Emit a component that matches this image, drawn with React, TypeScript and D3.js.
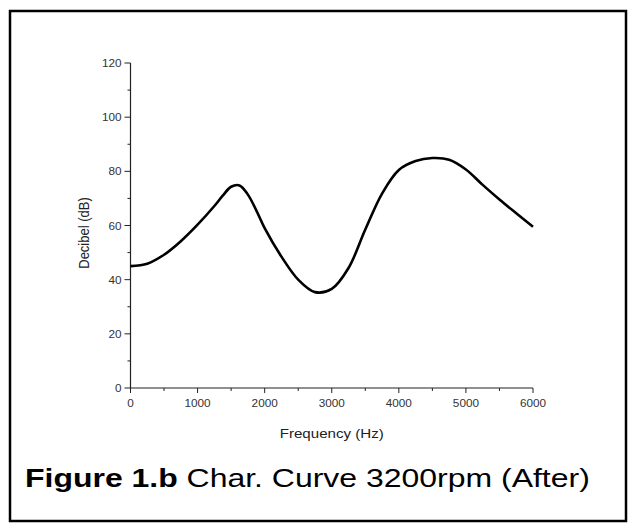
import React from "react";
import * as d3 from "d3";

// Frequency (Hz) and decibel readings of the curve
const freq = [0, 250, 500, 750, 1000, 1250, 1375, 1500, 1625, 1750, 1875, 2000, 2250, 2500, 2750, 3000, 3250, 3500, 3750, 4000, 4250, 4500, 4750, 5000, 5250, 5500, 5750, 6000];
const decibel = [45, 45.9, 49.2, 54.2, 60.3, 67.2, 71, 74.3, 74.8, 71.4, 65.6, 59, 48.5, 40, 35.4, 36.6, 44.3, 58.5, 71.8, 80.5, 83.8, 84.9, 84.3, 80.7, 75, 69.6, 64.5, 59.5];

const xTicks = [0, 1000, 2000, 3000, 4000, 5000, 6000];
const xMinor = [500, 1500, 2500, 3500, 4500, 5500];
const yTicks = [0, 20, 40, 60, 80, 100, 120];
const yMinor = [10, 30, 50, 70, 90, 110];

const W = 634;
const H = 531;
const font = "'Liberation Sans', Arial, sans-serif";

const App = () => {
  const x = d3.scaleLinear().domain([0, 6000]).range([130.5, 533]);
  const y = d3.scaleLinear().domain([0, 120]).range([388, 63]);

  const points = freq.map((f, i) => [f, decibel[i]] as [number, number]);
  const line = d3
    .line<[number, number]>()
    .x((d) => x(d[0]))
    .y((d) => y(d[1]))
    .curve(d3.curveCatmullRom.alpha(0.5));

  const x0 = x(0);
  const y0 = y(0);

  return (
    <svg width={W} height={H} style={{ position: "absolute", left: 0, top: 0 }}>
      <rect x={0} y={0} width={W} height={H} fill="#fff" />
      <rect x={10} y={11} width={616} height={510} fill="none" stroke="#000" strokeWidth={2.5} />

      {/* y axis */}
      <line x1={x0} x2={x0} y1={y(120)} y2={y0} stroke="#222" strokeWidth={1.2} />
      {yTicks.map((t) => (
        <g key={"y" + t}>
          <line x1={x0 - 6} x2={x0} y1={y(t)} y2={y(t)} stroke="#222" strokeWidth={1} />
          <text
            transform={`translate(${x0 - 9},${y(t) + 4}) scale(1.12,1)`}
            textAnchor="end"
            fontFamily={font}
            fontSize={10.5}
            fill="#333"
          >
            {t}
          </text>
        </g>
      ))}
      {yMinor.map((t) => (
        <line key={"ym" + t} x1={x0 - 3} x2={x0} y1={y(t)} y2={y(t)} stroke="#222" strokeWidth={1} />
      ))}

      {/* x axis */}
      <line x1={x0} x2={x(6000)} y1={y0} y2={y0} stroke="#222" strokeWidth={1.2} />
      {xTicks.map((t) => (
        <g key={"x" + t}>
          <line x1={x(t)} x2={x(t)} y1={y0} y2={y0 + 5} stroke="#222" strokeWidth={1} />
          <text
            transform={`translate(${x(t)},${y0 + 19}) scale(1.12,1)`}
            textAnchor="middle"
            fontFamily={font}
            fontSize={10.5}
            fill="#333"
          >
            {t}
          </text>
        </g>
      ))}
      {xMinor.map((t) => (
        <line key={"xm" + t} x1={x(t)} x2={x(t)} y1={y0} y2={y0 + 3} stroke="#222" strokeWidth={1} />
      ))}

      <text
        transform={`translate(${(x0 + x(6000)) / 2},438) scale(1.12,1)`}
        textAnchor="middle"
        fontFamily={font}
        fontSize={13.5}
        fill="#222"
      >
        Frequency (Hz)
      </text>
      <text
        transform={`translate(89,233) scale(1.12,1) rotate(-90)`}
        textAnchor="middle"
        fontFamily={font}
        fontSize={13}
        fill="#222"
      >
        Decibel (dB)
      </text>

      <path d={line(points) ?? ""} fill="none" stroke="#000" strokeWidth={2.6} strokeLinejoin="round" />

      <text
        transform="translate(25,487) scale(1.23,1)"
        fontFamily={font}
        fontSize={26}
        fill="#000"
      >
        <tspan fontWeight="bold">Figure 1.b</tspan> Char. Curve 3200rpm (After)
      </text>
    </svg>
  );
};

export default App;
